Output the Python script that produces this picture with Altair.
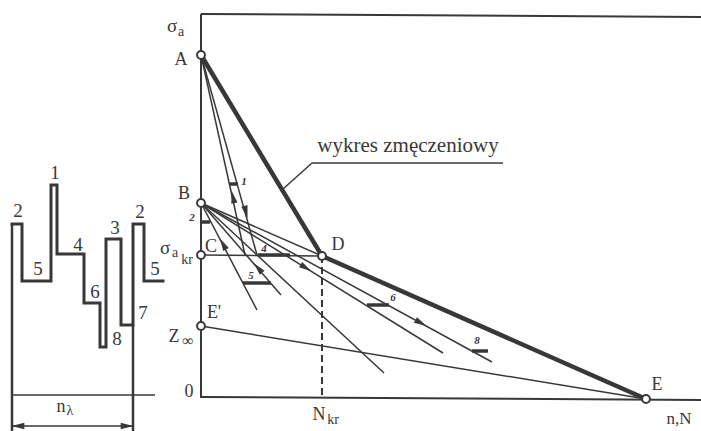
import math
import altair as alt
import pandas as pd

INK = "#383838"
SERIF = "Liberation Serif"
W, H = 701, 431

# --- key points of the fatigue diagram (x to the right, y downward) ---
A = (201, 55)
B = (201, 203)
C = (201, 255)
D = (322, 256)
E = (646, 399)
E1 = (201, 326)

circle_x = [A[0], B[0], C[0], D[0], E1[0], E[0]]
circle_y = [A[1], B[1], C[1], D[1], E1[1], E[1]]

# frame of the main diagram
frame_segments = [
    ((201, 14), (201, 398)),
    ((201, 14), (701, 17)),
    ((201, 397), (701, 400)),
]

# fatigue curve A-D-E
curve_segments = [(A, D), (D, E)]

# thin construction lines
thin_segments = [
    (A, (245, 255)),
    (A, (257, 255)),
    (B, D),
    (C, D),
    (B, (257, 310)),
    (B, (281, 295)),
    (B, (384, 373)),
    (B, (443, 353)),
    (B, (492, 362)),
    (E1, E),
    ((283, 189), (312, 163)),
    ((312, 163), (503, 163)),
]

# short bars marking load levels on the paths
bar_segments = [
    ((230, 184), (238, 184)),
    ((201, 222), (210, 222)),
    ((258, 255), (290, 255)),
    ((243, 283), (271, 283)),
    ((367, 305), (389, 305)),
    ((472, 351), (488, 351)),
]
bar_labels = ["1", "2", "4", "5", "6", "8"]
bar_label_x = [244, 192, 264, 251, 393, 477]
bar_label_y = [182, 218, 249, 276, 298, 341]

# N_kr projection
dashed_segments = [(D, (322, 398))]

# arrowheads: position and the point they head toward
arrow_pos = [(233, 197), (246, 212), (223, 244), (258, 268), (306, 268), (421, 323),
             (18, 426), (127, 426)]
arrow_to = [A, (257, 255), B, B, (443, 353), (492, 362), (0, 426), (160, 426)]

# --- block load spectrum (left) ---
step_x = [12, 22, 22, 51, 51, 57, 57, 84, 84, 100, 100, 106, 106, 121, 121, 133, 133, 144, 144, 163]
step_y = [224, 224, 281, 281, 185, 185, 254, 254, 303, 303, 347, 347, 239, 239, 325, 325, 224, 224, 281, 281]
step_levels = ["2", "1", "5", "4", "6", "3", "8", "7", "2", "5"]
step_label_x = [18, 55, 38, 78, 95, 115, 117, 143, 140, 155]
step_label_y = [211, 173, 269, 245, 292, 228, 339, 313, 212, 269]
spectrum_segments = [
    ((12, 224), (12, 431)),
    ((133, 325), (133, 431)),
]
spectrum_thin = [
    ((12, 395), (155, 395)),
    ((12, 426), (133, 426)),
]

# --- axis and point labels: text, x, y, font size ---
labels = [
    ("σ", 172, 26, 19), ("a", 181, 32, 14),
    ("A", 181, 60, 18), ("B", 184, 194, 18), ("C", 211, 247, 18),
    ("D", 338, 245, 18), ("E", 657, 385, 18), ("E'", 214, 313, 18),
    ("σ", 165, 248, 19), ("a", 175, 253, 14), ("kr", 187, 260, 14),
    ("Z", 174, 337, 18), ("∞", 188, 341, 16),
    ("0", 189, 392, 18),
    ("N", 319, 415, 18), ("kr", 333, 420, 14),
    ("n,N", 679, 419, 17),
    ("n", 61, 407, 18), ("λ", 70, 411, 14),
    ("wykres zmęczeniowy", 408, 146, 21),
]

xs = alt.Scale(domain=[0, W], nice=False, zero=False)
ys = alt.Scale(domain=[0, H], reverse=True, nice=False, zero=False)


def seg_frame(segs):
    return pd.DataFrame({
        "x": [s[0][0] for s in segs], "y": [s[0][1] for s in segs],
        "x2": [s[1][0] for s in segs], "y2": [s[1][1] for s in segs],
    })


def rules(segs, width, dash=None, cap="butt"):
    kw = dict(color=INK, strokeWidth=width, strokeCap=cap)
    if dash:
        kw["strokeDash"] = dash
    return alt.Chart(seg_frame(segs)).mark_rule(**kw).encode(
        x=alt.X("x:Q", scale=xs, axis=None),
        y=alt.Y("y:Q", scale=ys, axis=None),
        x2="x2:Q",
        y2="y2:Q",
    )


def texts(items, bold=False, italic=False):
    df = pd.DataFrame(items, columns=["t", "x", "y", "fs"])
    return alt.Chart(df).mark_text(
        font=SERIF, color=INK, align="center", baseline="middle",
        fontWeight="bold" if bold else "normal",
        fontStyle="italic" if italic else "normal",
    ).encode(
        x=alt.X("x:Q", scale=xs, axis=None),
        y=alt.Y("y:Q", scale=ys, axis=None),
        text="t:N",
        size=alt.Size("fs:Q", scale=None, legend=None),
    )


# arrowhead orientation from direction of travel
arr_x, arr_y, arr_ang = [], [], []
for (px, py), (tx, ty) in zip(arrow_pos, arrow_to):
    dx, dy = tx - px, ty - py
    arr_x.append(px)
    arr_y.append(py)
    arr_ang.append(math.degrees(math.atan2(dx, -dy)) % 360)
arrows = alt.Chart(pd.DataFrame({"x": arr_x, "y": arr_y, "a": arr_ang})).mark_point(
    shape="M0,-1L0.5,1L-0.5,1Z", filled=True, color=INK, opacity=1, size=160, strokeWidth=0
).encode(
    x=alt.X("x:Q", scale=xs, axis=None),
    y=alt.Y("y:Q", scale=ys, axis=None),
    angle=alt.Angle("a:Q", scale=None),
)

steps = alt.Chart(pd.DataFrame({"x": step_x, "y": step_y, "o": list(range(len(step_x)))})).mark_line(
    color=INK, strokeWidth=3, strokeJoin="miter", strokeCap="square"
).encode(
    x=alt.X("x:Q", scale=xs, axis=None),
    y=alt.Y("y:Q", scale=ys, axis=None),
    order="o:Q",
)

circles = alt.Chart(pd.DataFrame({"x": circle_x, "y": circle_y})).mark_point(
    shape="circle", filled=True, fill="white", stroke=INK, strokeWidth=2, size=62, opacity=1
).encode(
    x=alt.X("x:Q", scale=xs, axis=None),
    y=alt.Y("y:Q", scale=ys, axis=None),
)

bar_text = list(zip(bar_labels, bar_label_x, bar_label_y, [11] * len(bar_labels)))
step_text = list(zip(step_levels, step_label_x, step_label_y, [19] * len(step_levels)))

chart = alt.layer(
    rules(frame_segments, 2),
    rules(thin_segments, 1.5),
    rules(dashed_segments, 2, dash=[7, 4]),
    rules(curve_segments, 4.5, cap="round"),
    rules(bar_segments, 3.5),
    rules(spectrum_segments, 2.5),
    rules(spectrum_thin, 1.5),
    steps,
    arrows,
    circles,
    texts(labels),
    texts(bar_text, bold=True, italic=True),
    texts(step_text),
).properties(
    width=W, height=H, padding=0, autosize="none", background="white"
).configure(font=SERIF).configure_text(font=SERIF).configure_view(strokeWidth=0)

chart.save("out.html", embed_options={"renderer": "svg", "actions": False})
